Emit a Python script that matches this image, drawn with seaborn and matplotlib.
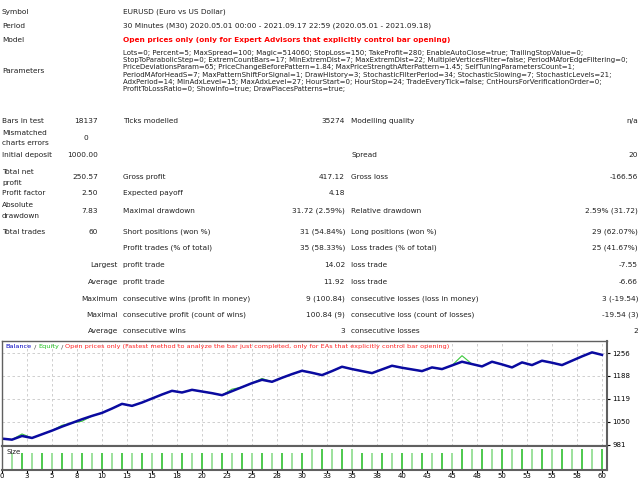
import matplotlib
matplotlib.use("Agg")
import matplotlib.pyplot as plt
from matplotlib.offsetbox import TextArea, HPacker, AnchoredOffsetbox
import seaborn as sns
import pandas as pd

trades = list(range(61))
balance = [1000, 997, 1008, 1002, 1013, 1024, 1036, 1047, 1058, 1068, 1077, 1090, 1104,
           1098, 1108, 1120, 1132, 1143, 1138, 1146, 1141, 1136, 1130, 1142, 1154, 1166,
           1176, 1170, 1182, 1193, 1203, 1197, 1190, 1202, 1215, 1208, 1202, 1196, 1207,
           1218, 1212, 1207, 1202, 1213, 1208, 1219, 1230, 1223, 1216, 1230, 1222, 1213,
           1228, 1220, 1233, 1227, 1220, 1233, 1246, 1258, 1250.57]
equity = list(balance)
equity[2] = 1014; equity[6] = 1040; equity[8] = 1052; equity[23] = 1148
equity[46] = 1248; equity[26] = 1180
size_trade = list(range(1, 61))
size_vals = [0.09] * 30 + [0.11] * 5 + [0.09] * 10 + [0.11] * 15
ytick_vals = [981, 1050, 1119, 1188, 1256]
xtick_labels = ["0", "3", "5", "8", "10", "13", "15", "18", "20", "23", "25", "28", "30",
                "33", "35", "38", "40", "43", "45", "48", "50", "53", "55", "58", "60"]
params = ["Lots=0; Percent=5; MaxSpread=100; Magic=514060; StopLoss=150; TakeProfit=280; EnableAutoClose=true; TrailingStopValue=0;",
          "StopToParabolicStep=0; ExtremCountBars=17; MinExtremDist=7; MaxExtremDist=22; MultipleVerticesFilter=false; PeriodMAforEdgeFiltering=0;",
          "PriceDeviationsParam=65; PriceChangeBeforePattern=1.84; MaxPriceStrengthAfterPattern=1.45; SelfTuningParametersCount=1;",
          "PeriodMAforHeadS=7; MaxPatternShiftForSignal=1; DrawHistory=3; StochasticFilterPeriod=34; StochasticSlowing=7; StochasticLevels=21;",
          "AdxPeriod=14; MinAdxLevel=15; MaxAdxLevel=27; HourStart=0; HourStop=24; TradeEveryTick=false; CntHoursForVerificationOrder=0;",
          "ProfitToLossRatio=0; ShowInfo=true; DrawPlacesPatterns=true;"]

W, H = 640, 480
fig = plt.figure(figsize=(6.4, 4.8), dpi=100)
FONT = "DejaVu Sans"

probe = fig.text(0, 0, params[1], fontsize=10, family=FONT)
fig.canvas.draw()
wpx = probe.get_window_extent().width
probe.remove()
PFS = 10 * 505 / wpx   # parameter block size
FS = 5.3               # general text size

def T(x, y, s, ha="left", color="#202020", weight="normal", fs=None):
    fig.text(x / W, 1 - y / H, s, ha=ha, va="center", fontsize=fs or FS, color=color,
             family=FONT, weight=weight)

T(2, 12, "Symbol"); T(123, 12, "EURUSD (Euro vs US Dollar)")
T(2, 26, "Period"); T(123, 26, "30 Minutes (M30) 2020.05.01 00:00 - 2021.09.17 22:59 (2020.05.01 - 2021.09.18)")
T(2, 40, "Model")
T(123, 40, "Open prices only (only for Expert Advisors that explicitly control bar opening)", color="red", weight="bold")
for i, p in enumerate(params):
    T(123, 53 + i * 7.2, p, fs=PFS)
T(2, 71, "Parameters")

def row(y, l1, v1, l2="", v2="", l3="", v3=""):
    T(2, y, l1); T(98, y, v1, ha="right")
    if l2: T(123, y, l2)
    if v2: T(345, y, v2, ha="right")
    if l3: T(351, y, l3)
    if v3: T(638, y, v3, ha="right")

row(121, "Bars in test", "18137", "Ticks modelled", "35274", "Modelling quality", "n/a")
T(2, 133, "Mismatched"); T(2, 143, "charts errors"); T(88, 138, "0", ha="right")
row(155, "Initial deposit", "1000.00", "", "", "Spread", "20")
T(2, 172, "Total net"); T(2, 183, "profit")
row(177, "", "250.57", "Gross profit", "417.12", "Gross loss", "-166.56")
row(193, "Profit factor", "2.50", "Expected payoff", "4.18")
T(2, 205, "Absolute"); T(2, 216, "drawdown")
row(211, "", "7.83", "Maximal drawdown", "31.72 (2.59%)", "Relative drawdown", "2.59% (31.72)")
row(232, "Total trades", "60", "Short positions (won %)", "31 (54.84%)", "Long positions (won %)", "29 (62.07%)")

def row2(y, lab, l2, v2, l3, v3):
    if lab: T(118, y, lab, ha="right")
    T(123, y, l2); T(345, y, v2, ha="right"); T(351, y, l3); T(638, y, v3, ha="right")

row2(248, "", "Profit trades (% of total)", "35 (58.33%)", "Loss trades (% of total)", "25 (41.67%)")
row2(265, "Largest", "profit trade", "14.02", "loss trade", "-7.55")
row2(282, "Average", "profit trade", "11.92", "loss trade", "-6.66")
row2(299, "Maximum", "consecutive wins (profit in money)", "9 (100.84)", "consecutive losses (loss in money)", "3 (-19.54)")
row2(315, "Maximal", "consecutive profit (count of wins)", "100.84 (9)", "consecutive loss (count of losses)", "-19.54 (3)")
row2(331, "Average", "consecutive wins", "3", "consecutive losses", "2")

# main chart
ax = fig.add_axes([2 / W, 1 - 446 / H, 605 / W, 105 / H])
df = pd.DataFrame({"trade": trades, "balance": balance, "equity": equity})
sns.lineplot(data=df, x="trade", y="equity", ax=ax, color="#3cc83c", lw=0.8)
sns.lineplot(data=df, x="trade", y="balance", ax=ax, color="#0a0aa0", lw=1.8)
ax.set_xlim(0, 60.5)
ax.set_ylim(978, 1292)
xt = [i * 2.5 for i in range(len(xtick_labels))]
ax.set_xticks(xt)
ax.set_xticklabels([])
ax.set_yticks(ytick_vals)
ax.yaxis.tick_right()
ax.set_yticklabels([str(v) for v in ytick_vals], fontsize=PFS, family=FONT)
ax.tick_params(axis="y", length=2, pad=2)
ax.tick_params(axis="x", length=0)
ax.grid(True, ls=(0, (3, 3)), color="#c8c8c8", lw=0.6)
ax.set_xlabel(""); ax.set_ylabel("")
for s in ax.spines.values():
    s.set_color("#606060"); s.set_linewidth(1.0)
ax.spines["right"].set_linewidth(1.5); ax.spines["bottom"].set_linewidth(1.5)

parts = [("Balance", "#0000c0"), (" / ", "#404040"), ("Equity", "#20c020"), (" / ", "#404040"),
         ("Open prices only (Fastest method to analyze the bar just completed, only for EAs that explicitly control bar opening)", "#ff2020")]
boxes = [TextArea(s, textprops=dict(color=c, fontsize=PFS * 0.93, family=FONT)) for s, c in parts]
pack = HPacker(children=boxes, align="baseline", pad=0, sep=0)
ab = AnchoredOffsetbox(loc="upper left", child=pack, pad=0.15, borderpad=0.1, frameon=False)
ax.add_artist(ab)

# size panel
ax2 = fig.add_axes([2 / W, 1 - 470 / H, 605 / W, 24 / H])
cols = ["#30c030" if i % 2 else "#8cdc8c" for i in range(len(size_trade))]
ax2.vlines(size_trade, 0, size_vals, colors=cols, lw=1.2)
ax2.set_xlim(0, 60.5)
ax2.set_ylim(0, 0.125)
ax2.set_yticks([])
ax2.set_xticks(xt)
ax2.set_xticklabels(xtick_labels, fontsize=PFS, family=FONT)
ax2.tick_params(axis="x", length=2, pad=0.5)
ax2.text(0.008, 0.88, "Size", transform=ax2.transAxes, fontsize=PFS, family=FONT, va="top", color="#202020")
for s in ax2.spines.values():
    s.set_color("#606060"); s.set_linewidth(1.0)
ax2.spines["right"].set_linewidth(1.5); ax2.spines["bottom"].set_linewidth(1.5)
ax2.spines["top"].set_linewidth(1.5)

fig.savefig("out.png", dpi=100)
